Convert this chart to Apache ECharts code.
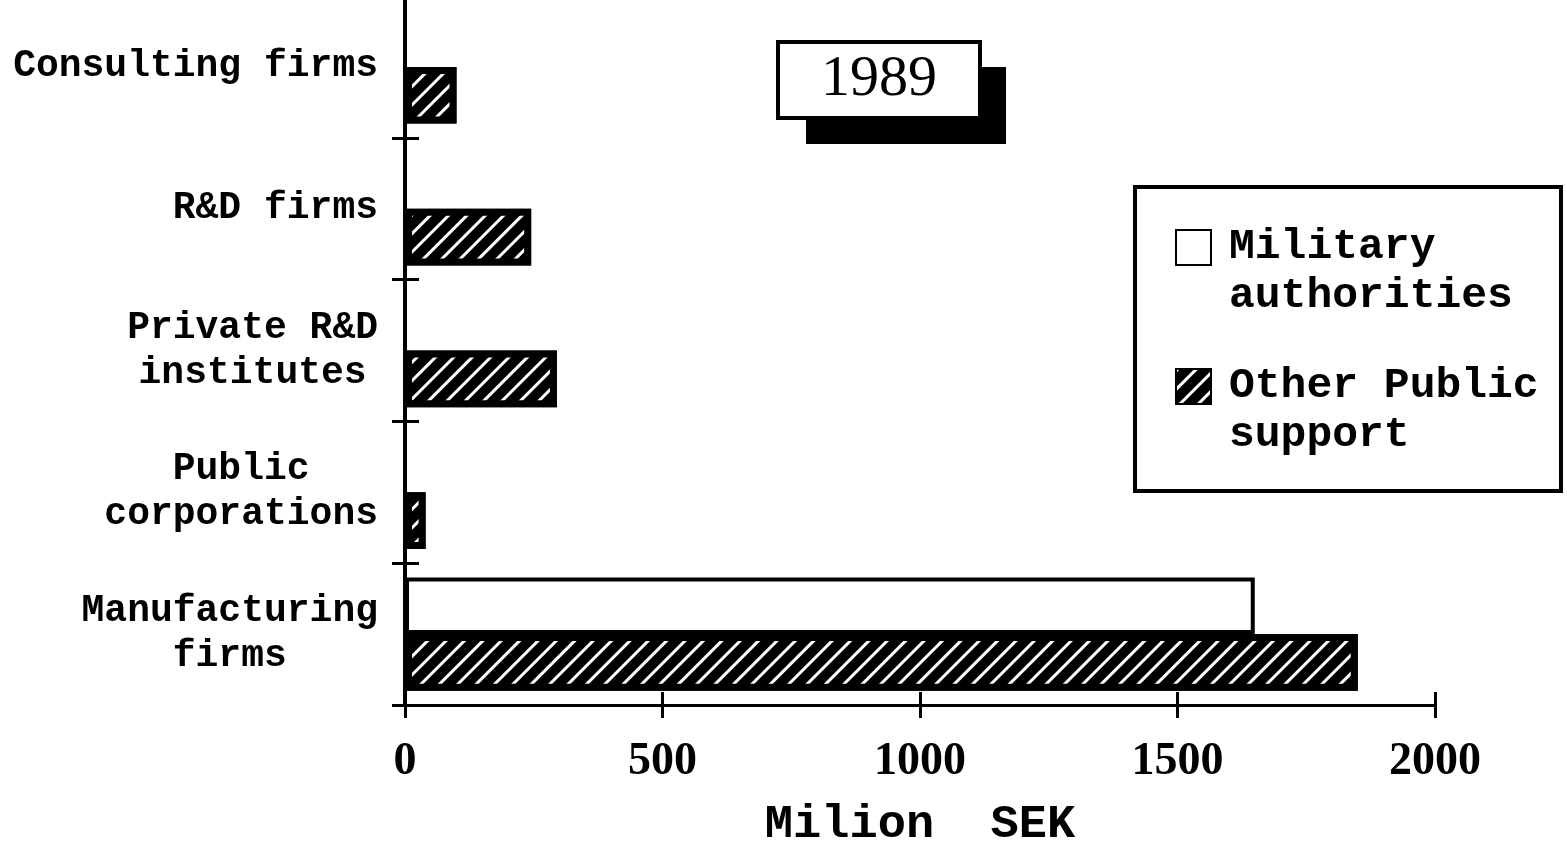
<!DOCTYPE html>
<html><head><meta charset="utf-8">
<script src="https://cdn.jsdelivr.net/npm/echarts/dist/echarts.min.js"></script>
<style>html,body{margin:0;padding:0;background:#fff}#c{width:1567px;height:856px}</style>
</head><body><div id="c"></div>
<script>
const categories = ['Consulting firms', 'R&D firms', 'Private R&D\ninstitutes', 'Public\ncorporations', 'Manufacturing\nfirms'];
const seriesNames = ['Military\nauthorities', 'Other Public\nsupport'];
const militaryValues = [0, 0, 0, 0, 1650];
const otherPublicValues = [100, 245, 295, 40, 1850];
const xTickValues = [0, 500, 1000, 1500, 2000];
const titleText = '1989';
const xAxisName = 'Milion  SEK';

const LABEL_FONT = 'Liberation Mono';
const chart = echarts.init(document.getElementById('c'), null, {renderer: 'canvas'});
const tickStyle = {color: '#000', width: 3};
const option = {
  animation: false,
  backgroundColor: '#fff',
  title: {
    text: titleText, left: 778, top: 42, z: 10,
    padding: [9, 43],
    borderColor: '#000', borderWidth: 4, backgroundColor: '#fff',
    textStyle: {fontFamily: 'Liberation Serif', fontSize: 58, fontWeight: 'normal', color: '#000', lineHeight: 58}
  },
  grid: {left: 405, right: 132, top: -4, bottom: 151, containLabel: false, outerBoundsMode: 'none'},
  legend: {
    orient: 'vertical', left: 1175, top: 174, padding: 0, itemGap: -8,
    itemWidth: 35, itemHeight: 35, icon: 'rect',
    formatter: name => '\n' + name,
    textStyle: {fontFamily: LABEL_FONT, fontWeight: 'bold', fontSize: 43, lineHeight: 49, color: '#000', padding: [0, 0, 0, 13]},
    data: seriesNames
  },
  graphic: [{
    type: 'rect', z: 0, shape: {x: 806, y: 67, width: 200, height: 77},
    style: {fill: '#000', stroke: 'none'}, silent: true
  }, {
    type: 'rect', shape: {x: 1135, y: 187, width: 426, height: 304},
    style: {fill: 'none', stroke: '#000', lineWidth: 4}, silent: true
  }],
  xAxis: [{
    type: 'value', min: xTickValues[0], max: xTickValues[xTickValues.length - 1], interval: 500,
    position: 'bottom',
    axisLine: {show: true, onZero: false, lineStyle: tickStyle},
    axisTick: {show: true, inside: false, length: 13, lineStyle: tickStyle},
    axisLabel: {color: '#000', fontFamily: 'Liberation Serif', fontWeight: 'bold', fontSize: 46, margin: 34,
      formatter: v => String(v)},
    splitLine: {show: false},
    name: xAxisName, nameLocation: 'middle', nameGap: 97,
    nameTextStyle: {fontFamily: LABEL_FONT, fontWeight: 'bold', fontSize: 47, color: '#000'}
  }, {
    type: 'value', min: xTickValues[0], max: xTickValues[xTickValues.length - 1], interval: 500,
    position: 'bottom',
    axisLine: {show: false, onZero: false},
    axisTick: {show: true, inside: true, length: 13, lineStyle: tickStyle},
    axisLabel: {show: false}, splitLine: {show: false}
  }],
  yAxis: [{
    type: 'category', data: categories, inverse: true, position: 'left', z: 5,
    axisLine: {show: true, onZero: false, lineStyle: {color: '#000', width: 4}},
    axisTick: {show: true, inside: false, length: 13, lineStyle: tickStyle},
    axisLabel: {
      margin: 27, color: '#000',
      formatter: v => v.split('\n').map(s => '{c|' + s + '}').join('\n'),
      rich: {c: {align: 'center', fontFamily: LABEL_FONT, fontWeight: 'bold', fontSize: 38, lineHeight: 45, color: '#000'}}
    },
    splitLine: {show: false}
  }, {
    type: 'category', data: categories, inverse: true, position: 'left',
    axisLine: {show: false, onZero: false},
    axisTick: {show: true, inside: true, length: 14, lineStyle: tickStyle},
    axisLabel: {show: false}, splitLine: {show: false}
  }],
  series: [{
    name: seriesNames[0], type: 'bar', data: militaryValues,
    barGap: '0%', barCategoryGap: '20%',
    itemStyle: {color: '#fff', borderColor: '#000', borderWidth: 4}
  }, {
    name: seriesNames[1], type: 'bar', data: otherPublicValues,
    barGap: '0%', barCategoryGap: '20%',
    itemStyle: {
      color: '#000', borderColor: '#000', borderWidth: 7,
      decal: {symbol: 'rect', symbolSize: 1, dashArrayX: [1, 0], dashArrayY: [3, 10], rotation: -Math.PI / 4, color: '#fff'}
    }
  }]
};
chart.setOption(option);
</script>
</body></html>
